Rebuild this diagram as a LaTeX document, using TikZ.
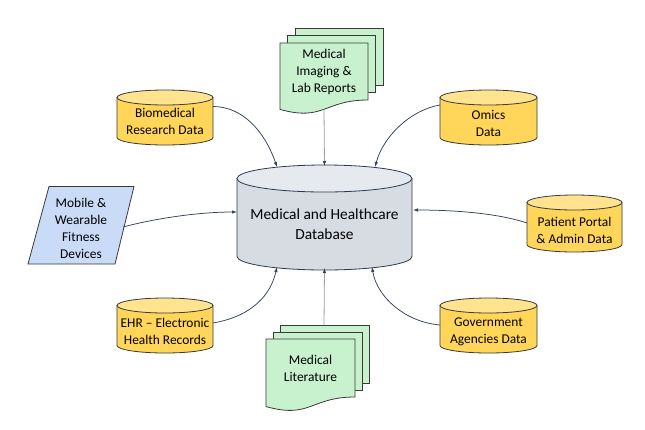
\documentclass[tikz,border=0pt]{standalone}
\usepackage{fontspec}
\setmainfont{Carlito}
\usetikzlibrary{arrows.meta,calc}
\definecolor{ybody}{HTML}{FFD65A}
\definecolor{ytop}{HTML}{FFE38F}
\definecolor{gbody}{HTML}{D7DBE2}
\definecolor{gtop}{HTML}{E6E9EE}
\definecolor{docg}{HTML}{C8F2CE}
\definecolor{mblue}{HTML}{C9DBF6}
\definecolor{edgec}{HTML}{3A3A3A}
\definecolor{dbedge}{HTML}{2E3B4E}
\definecolor{conn}{HTML}{33415A}
\definecolor{vline}{HTML}{A0A0A0}
\tikzset{
  shapeline/.style={draw=edgec, line width=0.8pt},
  lbl/.style={font=\fontsize{13.4}{17}\selectfont, align=center, inner sep=0pt, text=black},
  dblbl/.style={font=\fontsize{15.4}{20}\selectfont, align=center, inner sep=0pt, text=black},
  conarrow/.style={draw=conn, line width=0.75pt, -{Latex[length=5pt,width=3.5pt]}},
  varrow/.style={draw=vline, line width=0.8pt, -{Latex[length=5pt,width=3.5pt,fill=conn,color=conn]}},
}
% cylinder: cx, ytop, width, height, ry, body colour, top colour, edge colour
\newcommand\mycyl[8]{%
  \pgfmathsetmacro\cL{#1-#3/2}\pgfmathsetmacro\cR{#1+#3/2}%
  \pgfmathsetmacro\cT{#2+#5}\pgfmathsetmacro\cB{#2+#4-#5}%
  \pgfmathsetmacro\cRx{#3/2}%
  \filldraw[fill=#6, draw=#8, line width=0.8pt] (\cL,\cT) -- (\cL,\cB)
     arc[start angle=180, end angle=360, x radius=\cRx pt, y radius=#5pt] -- (\cR,\cT) -- cycle;
  \filldraw[fill=#7, draw=#8, line width=0.8pt] (#1,\cT) ellipse[x radius=\cRx pt, y radius=#5pt];
}
% multi document: x, y (front top-left), w, hR (right edge height), d (offset)
\newcommand\mydoc[5]{%
  \pgfmathsetmacro\dA{#1+2*#5}\pgfmathsetmacro\dB{#2-2*#5}%
  \pgfmathsetmacro\dC{#1+#3+2*#5}\pgfmathsetmacro\dD{#2+#4-2*#5}%
  \filldraw[fill=docg, shapeline] (\dA,\dB) rectangle (\dC,\dD);
  \pgfmathsetmacro\dA{#1+#5}\pgfmathsetmacro\dB{#2-#5}%
  \pgfmathsetmacro\dC{#1+#3+#5}\pgfmathsetmacro\dD{#2+#4-#5}%
  \filldraw[fill=docg, shapeline] (\dA,\dB) rectangle (\dC,\dD);
  \pgfmathsetmacro\dA{#1+#3}\pgfmathsetmacro\dB{#2+#4}%
  \pgfmathsetmacro\dC{#1+#3/2}\pgfmathsetmacro\dD{#2+1.38*#4}%
  \pgfmathsetmacro\dE{#2+1.165*#4}%
  \filldraw[fill=docg, shapeline] (#1,#2) -- (\dA,#2) -- (\dA,\dB)
     .. controls (\dC,\dB) and (\dC,\dD) .. (#1,\dE) -- cycle;
}
\begin{document}
\begin{tikzpicture}[x=1pt, y=-1pt]
\useasboundingbox (0,0) rectangle (645,429);
\fill[white] (0,0) rectangle (645,429);

% shapes
\mycyl{324.5}{165}{175}{105}{13.5}{gbody}{gtop}{dbedge}
\mycyl{165}{90}{96}{55}{7.5}{ybody}{ytop}{edgec}
\mycyl{488.5}{90}{97}{55}{7.5}{ybody}{ytop}{edgec}
\mycyl{574.5}{195}{95}{57}{7.5}{ybody}{ytop}{edgec}
\mycyl{165}{298}{96}{55}{7.5}{ybody}{ytop}{edgec}
\mycyl{488.5}{298}{97}{55}{7.5}{ybody}{ytop}{edgec}
\mydoc{280}{43}{88}{57}{7.5}
\mydoc{266}{339}{89}{58}{7}
\filldraw[fill=mblue, shapeline] (49,186.5) -- (134,186.5) -- (115,264) -- (28,264) -- cycle;

% labels
\node[dblbl, minimum width=175pt] (db) at (324.5,224) {Medical and Healthcare\\Database};
\node[lbl, minimum width=96pt] (bio) at (165,121.5) {Biomedical\\Research Data};
\node[lbl, minimum width=97pt] (omics) at (488.5,123.5) {Omics\\Data};
\node[lbl, minimum width=95pt] (pat) at (574.5,230) {Patient Portal\\\& Admin Data};
\node[lbl, minimum width=96pt] (ehr) at (165,331.5) {EHR -- Electronic\\Health Records};
\node[lbl, minimum width=97pt] (gov) at (488.5,331.5) {Government\\Agencies Data};
\node[lbl] (img) at (324,72) {Medical\\Imaging \&\\Lab Reports};
\node[lbl] (lit) at (310.5,368) {Medical\\Literature};
\node[lbl] (mob) at (81,228) {Mobile \&\\Wearable\\Fitness\\Devices};

% connectors
\draw[conarrow] ($(bio.center)+(48,-15)$) .. controls +(30,0) and +(-12,-35) .. ($(db.center)+(-47.5,-57)$);
\draw[conarrow] ($(omics.center)+(-48.5,-18.5)$) .. controls +(-30,5) and +(8,-30) .. ($(db.center)+(50.5,-57)$);
\draw[conarrow] ($(mob.center)+(42,-1)$) .. controls +(30,-8) and +(-40,0) .. ($(db.center)+(-87.5,-12)$);
\draw[conarrow] ($(pat.center)+(-47.5,-7)$) .. controls +(-30,-10) and +(40,0) .. ($(db.center)+(88.5,-14)$);
\draw[conarrow] ($(ehr.center)+(48,-8.5)$) .. controls +(30,-5) and +(-8,35) .. ($(db.center)+(-47.5,43)$);
\draw[conarrow] ($(gov.center)+(-48.5,-6.5)$) .. controls +(-35,-3) and +(5,30) .. ($(db.center)+(47.5,43)$);
\draw[varrow] ($(img.center)+(0,37)$) -- ($(db.center)+(0,-58)$);
\draw[varrow] ($(lit.center)+(13.5,-43)$) -- ($(db.center)+(0,44)$);
\end{tikzpicture}
\end{document}
